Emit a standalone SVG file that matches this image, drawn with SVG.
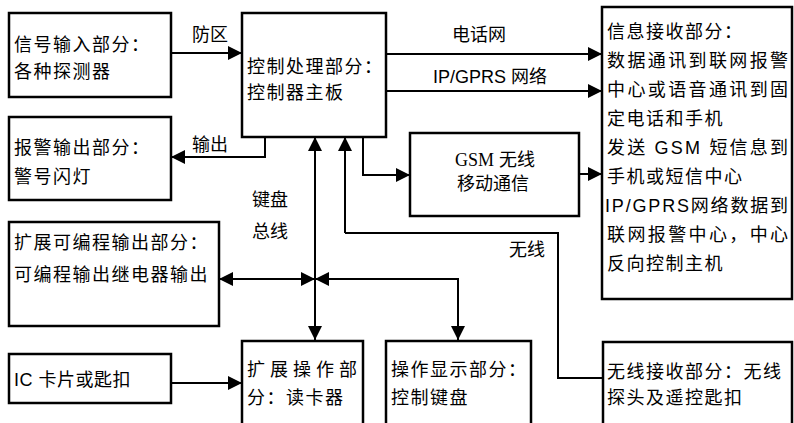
<svg xmlns="http://www.w3.org/2000/svg" width="794" height="423" viewBox="0 0 794 423">
<style>
.box{fill:#fff;stroke:#000;stroke-width:2.5}
.ln{fill:none;stroke:#000;stroke-width:2}
text{font-family:"Liberation Sans","Noto Sans CJK SC",sans-serif;font-size:18px;fill:#000;letter-spacing:1.5px}
.lab{letter-spacing:0}
</style>
<defs>
<marker id="ah" viewBox="0 0 14 14" refX="14" refY="7" markerWidth="14" markerHeight="14" markerUnits="userSpaceOnUse" orient="auto-start-reverse">
<path d="M0,0 L14,7 L0,14 z" fill="#000"/>
</marker>
</defs>
<rect width="794" height="423" fill="#fff"/>
<g id="connectors">
<path class="ln" d="M171,53 H242" marker-end="url(#ah)"/>
<path class="ln" d="M265,137 V157 H171" marker-end="url(#ah)"/>
<path class="ln" d="M386,54 H602" marker-end="url(#ah)"/>
<path class="ln" d="M386,91 H602" marker-end="url(#ah)"/>
<path class="ln" d="M363,137 V175 H410" marker-end="url(#ah)"/>
<path class="ln" d="M579,174 H602" marker-end="url(#ah)"/>
<path class="ln" d="M315,137 V340" marker-start="url(#ah)" marker-end="url(#ah)"/>
<path class="ln" d="M345,233 V137" marker-end="url(#ah)"/>
<path class="ln" d="M345,233 H558 V378 H603"/>
<path class="ln" d="M219,279 H315" marker-start="url(#ah)" marker-end="url(#ah)"/>
<path class="ln" d="M315,279 H458 V340" marker-start="url(#ah)" marker-end="url(#ah)"/>
<path class="ln" d="M171,383 H242" marker-end="url(#ah)"/>
<text class="lab" x="192" y="41">防区</text>
<text class="lab" x="192" y="151">输出</text>
<text class="lab" x="452" y="41">电话网</text>
<text class="lab" x="433" y="83">IP/GPRS 网络</text>
<text class="lab" x="252" y="206">键盘</text>
<text class="lab" x="252" y="238">总线</text>
<text class="lab" x="509" y="256">无线</text>
</g>
<g id="signal-input">
<rect class="box" x="9" y="13" width="162" height="84"/>
<text x="14" y="51">信号输入部分：</text>
<text x="14" y="78">各种探测器</text>
</g>
<g id="alarm-output">
<rect class="box" x="9" y="117" width="162" height="83"/>
<text x="14" y="154">报警输出部分：</text>
<text x="14" y="183">警号闪灯</text>
</g>
<g id="controller">
<rect class="box" x="242" y="13" width="144" height="124"/>
<text x="247" y="73">控制处理部分：</text>
<text x="247" y="99">控制器主板</text>
</g>
<g id="gsm">
<rect class="box" x="410" y="133" width="169" height="83"/>
<text class="lab" x="495" y="166" text-anchor="middle"><tspan font-family="Liberation Serif">GSM</tspan> 无线</text>
<text class="lab" x="493" y="190" text-anchor="middle">移动通信</text>
</g>
<g id="info-receive">
<rect class="box" x="602" y="7" width="190" height="292"/>
<text x="607" y="38">信息接收部分：</text>
<text x="607" y="67" textLength="181" lengthAdjust="spacing" style="letter-spacing:0">数据通讯到联网报警</text>
<text x="607" y="96" textLength="181" lengthAdjust="spacing" style="letter-spacing:0">中心或语音通讯到固</text>
<text x="607" y="125">定电话和手机</text>
<text x="607" y="154" textLength="181" lengthAdjust="spacing" style="letter-spacing:0">发送 GSM 短信息到</text>
<text x="607" y="183">手机或短信中心</text>
<text x="605" y="212" textLength="183" lengthAdjust="spacing" style="letter-spacing:0">IP/GPRS网络数据到</text>
<text x="607" y="241" textLength="181" lengthAdjust="spacing" style="letter-spacing:0">联网报警中心，中心</text>
<text x="607" y="270">反向控制主机</text>
</g>
<g id="prog-output">
<rect class="box" x="9" y="222" width="210" height="104"/>
<text x="14" y="249">扩展可编程输出部分：</text>
<text x="14" y="281">可编程输出继电器输出</text>
</g>
<g id="ic-card">
<rect class="box" x="9" y="354" width="162" height="49"/>
<text x="14" y="386" style="letter-spacing:0.5px">IC 卡片或匙扣</text>
</g>
<g id="card-reader">
<rect class="box" x="242" y="341" width="121" height="100"/>
<text x="247" y="376" style="letter-spacing:5px">扩展操作部</text>
<text x="247" y="404">分：读卡器</text>
</g>
<g id="keypad">
<rect class="box" x="386" y="341" width="145" height="100"/>
<text x="391" y="376">操作显示部分：</text>
<text x="391" y="404">控制键盘</text>
</g>
<g id="wireless-receive">
<rect class="box" x="603" y="342" width="189" height="100"/>
<text x="607" y="378">无线接收部分：无线</text>
<text x="607" y="404">探头及遥控匙扣</text>
</g>
</svg>
